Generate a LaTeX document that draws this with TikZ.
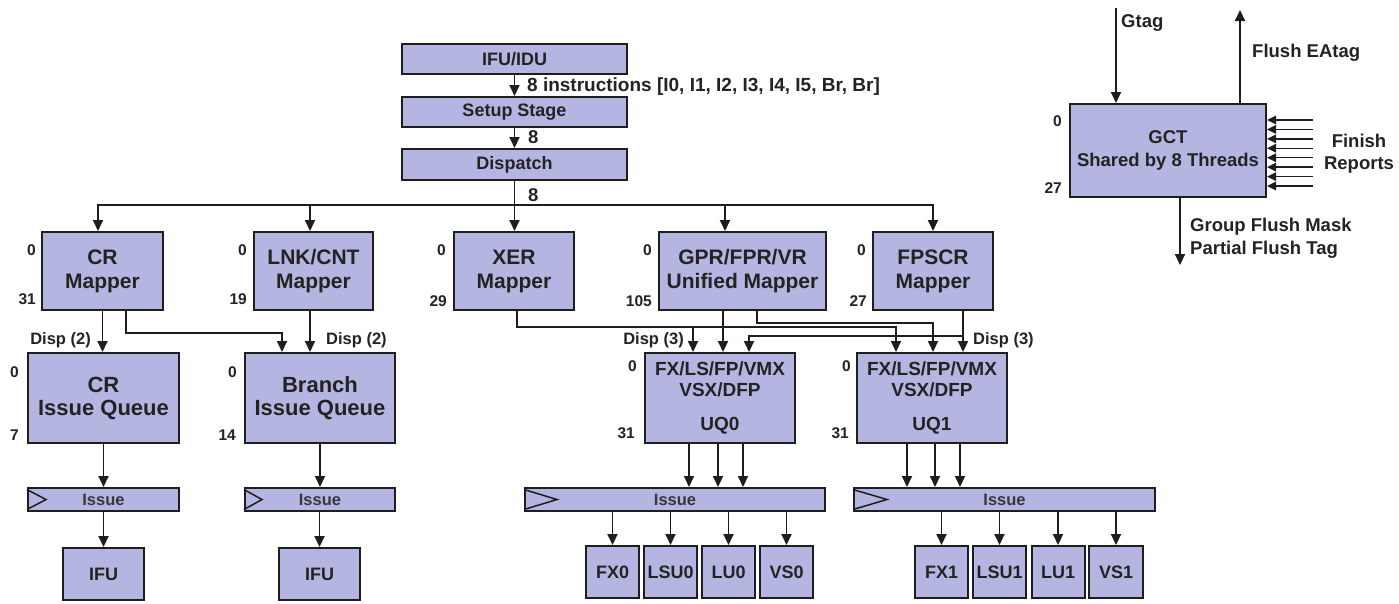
\documentclass[tikz,border=0pt]{standalone}
\usepackage{fontspec}
\setmainfont{Liberation Sans}
\usetikzlibrary{arrows.meta,calc}
\definecolor{boxc}{RGB}{181,181,226}
\definecolor{linec}{RGB}{30,30,30}
\definecolor{textc}{RGB}{35,35,35}
\definecolor{issuec}{RGB}{55,55,60}
\begin{document}
\begin{tikzpicture}[x=1pt,y=-1pt,
  box/.style={draw=linec, fill=boxc, line width=2pt, inner sep=0pt, text=textc,
    font=\fontsize{18}{22}\selectfont\bfseries, align=center},
  mapbox/.style={box, minimum height=78pt, font=\fontsize{21}{24}\selectfont\bfseries},
  iqbox/.style={box, minimum height=90pt, font=\fontsize{22}{23}\selectfont\bfseries},
  uqbox/.style={box, minimum width=150pt, minimum height=90pt, font=\fontsize{19}{21}\selectfont\bfseries},
  barbox/.style={box, minimum height=23pt, text=issuec, font=\fontsize{16.5}{18}\selectfont\bfseries},
  fubox/.style={box, minimum height=52pt, minimum width=53pt},
  conn/.style={draw=linec, line width=1.9pt},
  arr/.style={conn, -{Triangle[length=11pt,width=10pt]}},
  farr/.style={draw=linec, line width=1.4pt, -{Triangle[length=9pt,width=8.5pt]}},
  num/.style={font=\fontsize{15.5}{18}\selectfont\bfseries, text=textc, inner sep=0pt, anchor=east},
  lbl/.style={font=\fontsize{18.5}{23}\selectfont\bfseries, text=textc, inner sep=0pt},
  displbl/.style={font=\fontsize{16.5}{20}\selectfont\bfseries, text=textc, inner sep=0pt}
]
\useasboundingbox[fill=white] (0,0) rectangle (1399,603);

% ---- front end ----
\node[box, minimum width=225pt, minimum height=30pt] (ifuidu) at (514.5,59) {IFU/IDU};
\node[box, minimum width=225pt, minimum height=30pt] (setup) at (514.5,112) {Setup Stage};
\node[box, minimum width=225pt, minimum height=31pt] (disp) at (514.5,164.5) {Dispatch};

% ---- mappers ----
\node[mapbox, minimum width=121pt] (crmap) at (102.5,271) {CR\\Mapper};
\node[mapbox, minimum width=119pt] (lnkmap) at (313.5,271) {LNK/CNT\\Mapper};
\node[mapbox, minimum width=120pt] (xermap) at (514,271) {XER\\Mapper};
\node[mapbox, minimum width=167pt] (gprmap) at (742.5,271) {GPR/FPR/VR\\Unified Mapper};
\node[mapbox, minimum width=120pt] (fpscrmap) at (933,271) {FPSCR\\Mapper};

% ---- queues ----
\node[iqbox, minimum width=151pt] (criq) at (103.5,398) {CR\\Issue Queue};
\node[iqbox, minimum width=150pt] (briq) at (320,398) {Branch\\Issue Queue};
\node[uqbox] (uq0) at (720,398) {FX/LS/FP/VMX\\VSX/DFP\\[13pt]UQ0};
\node[uqbox] (uq1) at (932,398) {FX/LS/FP/VMX\\VSX/DFP\\[13pt]UQ1};

% ---- issue bars ----
\node[barbox, minimum width=151pt] (crbar) at (103.5,499.5) {Issue};
\node[barbox, minimum width=150pt] (brbar) at (320,499.5) {Issue};
\node[barbox, minimum width=300pt] (bar0) at (675,499.5) {Issue};
\node[barbox, minimum width=301pt] (bar1) at (1004.5,499.5) {Issue};
\draw[conn, line width=1.5pt] ([yshift=-2.5pt]crbar.north west) -- ([xshift=19pt]crbar.west) -- ([yshift=2.5pt]crbar.south west);
\draw[conn, line width=1.5pt] ([yshift=-2.5pt]brbar.north west) -- ([xshift=18pt]brbar.west) -- ([yshift=2.5pt]brbar.south west);
\draw[conn, line width=1.5pt] ([yshift=-2.5pt]bar0.north west) -- ([xshift=33pt]bar0.west) -- ([yshift=2.5pt]bar0.south west);
\draw[conn, line width=1.5pt] ([yshift=-2.5pt]bar1.north west) -- ([xshift=34pt]bar1.west) -- ([yshift=2.5pt]bar1.south west);

% ---- execution units ----
\node[box, minimum width=81pt, minimum height=52pt] (crifu) at (103.5,574) {IFU};
\node[box, minimum width=81pt, minimum height=52pt] (brifu) at (319.5,574) {IFU};
\node[fubox] (fx0) at (612.5,572) {FX0};
\node[fubox] (lsu0) at (670.5,572) {LSU0};
\node[fubox] (lu0) at (728.5,572) {LU0};
\node[fubox] (vs0) at (786.5,572) {VS0};
\node[fubox] (fx1) at (941.5,572) {FX1};
\node[fubox] (lsu1) at (999.5,572) {LSU1};
\node[fubox] (lu1) at (1058,572) {LU1};
\node[fubox, minimum width=54pt] (vs1) at (1116,572) {VS1};

% ---- GCT ----
\node[box, minimum width=196pt, minimum height=93pt, font=\fontsize{18.5}{23}\selectfont\bfseries] (gct) at (1168,150.5) {GCT\\Shared by 8 Threads};

% ---- labels ----
\node[lbl, anchor=west, font=\fontsize{19}{23}\selectfont\bfseries] (instr) at (527,87) {8 instructions [I0, I1, I2, I3, I4, I5, Br, Br]};
\node[lbl, anchor=west] (w8a) at (528,137) {8};
\node[lbl, anchor=west] (w8b) at (528,195) {8};
\node[displbl, anchor=east] (dispcr) at (91,340) {Disp (2)};
\node[displbl, anchor=west] (dispbr) at (326,340) {Disp (2)};
\node[displbl, anchor=east] (dispu0) at (684,340) {Disp (3)};
\node[displbl, anchor=west] (dispu1) at (973,340) {Disp (3)};

\node[num] (n1) at (36,250) {0};   \node[num] (n2) at (36,299) {31};
\node[num] (n3) at (247,250) {0};  \node[num] (n4) at (247,299) {19};
\node[num] (n5) at (446,250) {0};  \node[num] (n6) at (447,301) {29};
\node[num] (n7) at (652,250) {0};  \node[num] (n8) at (652,301) {105};
\node[num] (n9) at (866,250) {0};  \node[num] (n10) at (867,301) {27};
\node[num] (n11) at (19,372) {0};  \node[num] (n12) at (19,435) {7};
\node[num] (n13) at (237,372) {0}; \node[num] (n14) at (236,435) {14};
\node[num] (n15) at (637,366) {0}; \node[num] (n16) at (635,433) {31};
\node[num] (n17) at (851,366) {0}; \node[num] (n18) at (849,433) {31};
\node[num] (n19) at (1062,121) {0}; \node[num] (n20) at (1062,188) {27};

\node[lbl, anchor=west] (gtag) at (1121,23) {Gtag};
\node[lbl, anchor=west] (flea) at (1252,53) {Flush EAtag};
\node[lbl, align=center, font=\fontsize{18.5}{22}\selectfont\bfseries] (finish) at (1359,154) {Finish\\Reports};
\node[lbl, anchor=west, align=left] (gfm) at (1190,238.5) {Group Flush Mask\\Partial Flush Tag};

% ---- connectors: front end ----
\draw[arr] (ifuidu.south) -- (setup.north);
\draw[arr] (setup.south) -- (disp.north);
\coordinate (busL) at (98,205);
\coordinate (busR) at (933,205);
\draw[conn, line cap=rect] (busL) -- (busR);
\draw[arr] (disp.south) -- (disp.south |- xermap.north);
\draw[arr] (busL) -- (busL |- crmap.north);
\draw[arr] ([xshift=-3.5pt]lnkmap.north |- busL) -- ([xshift=-3.5pt]lnkmap.north);
\draw[arr] ([xshift=-17.5pt]gprmap.north |- busL) -- ([xshift=-17.5pt]gprmap.north);
\draw[arr] (busR) -- (busR |- fpscrmap.north);

% ---- mappers to CR / branch queues ----
\coordinate (crbrY) at (0,333);
\draw[arr] (crmap.south) -- (crmap.south |- criq.north);
\draw[arr] ([xshift=23.5pt]crmap.south) |- ([xshift=-38pt]briq.north |- crbrY) -- ([xshift=-38pt]briq.north);
\draw[arr] ([xshift=-3.5pt]lnkmap.south) -- ([xshift=-3.5pt]lnkmap.south |- briq.north);

% ---- mappers to unified queues ----
\coordinate (xerY) at (0,327);
\coordinate (gprY) at (0,323);
\coordinate (fpY) at (0,336);
\draw[arr] ([xshift=3pt]xermap.south) |- ([xshift=-36pt]uq1.north |- xerY) -- ([xshift=-36pt]uq1.north);
\draw[arr] ([xshift=-27pt]uq0.north |- xerY) -- ([xshift=-27pt]uq0.north);
\draw[arr] ([xshift=-19.5pt]gprmap.south) -- ([xshift=-19.5pt]gprmap.south |- uq0.north);
\draw[arr] ([xshift=14.5pt]gprmap.south) |- ([xshift=1pt]uq1.north |- gprY) -- ([xshift=1pt]uq1.north);
\draw[arr] ([xshift=30pt]fpscrmap.south) -- ([xshift=30pt]fpscrmap.south |- uq1.north);
\draw[arr] ([xshift=30pt]fpscrmap.south |- fpY) -| ([xshift=29pt]uq0.north);

% ---- queues to issue ----
\draw[arr] (criq.south) -- (crbar.north);
\draw[arr] (briq.south) -- (brbar.north);
\draw[arr] (crbar.south) -- (crifu.north);
\draw[arr] (brbar.south -| brifu.north) -- (brifu.north);
\foreach \dx in {-31,-2,23} {
  \draw[arr] ([xshift=\dx pt]uq0.south) -- ([xshift=\dx pt]uq0.south |- bar0.north);
}
\foreach \dx in {-25,3,28} {
  \draw[arr] ([xshift=\dx pt]uq1.south) -- ([xshift=\dx pt]uq1.south |- bar1.north);
}
\foreach \u in {fx0,lsu0,lu0,vs0} {
  \draw[arr] (bar0.south -| \u.north) -- (\u.north);
}
\foreach \u in {fx1,lsu1,lu1,vs1} {
  \draw[arr] (bar1.south -| \u.north) -- (\u.north);
}

% ---- GCT connectors ----
\coordinate (gtagtop) at (1116,8);
\coordinate (flushtop) at (1240,10);
\coordinate (grpbot) at (1180,265);
\draw[arr] (gtagtop) -- (gtagtop |- gct.north);
\draw[arr] (flushtop |- gct.north) -- (flushtop);
\draw[arr] (grpbot |- gct.south) -- (grpbot);
\foreach \i in {0,...,7} {
  \coordinate (fr\i) at (1313,{120+9.43*\i});
  \draw[farr] (fr\i) -- (fr\i -| gct.east);
}
\end{tikzpicture}
\end{document}
